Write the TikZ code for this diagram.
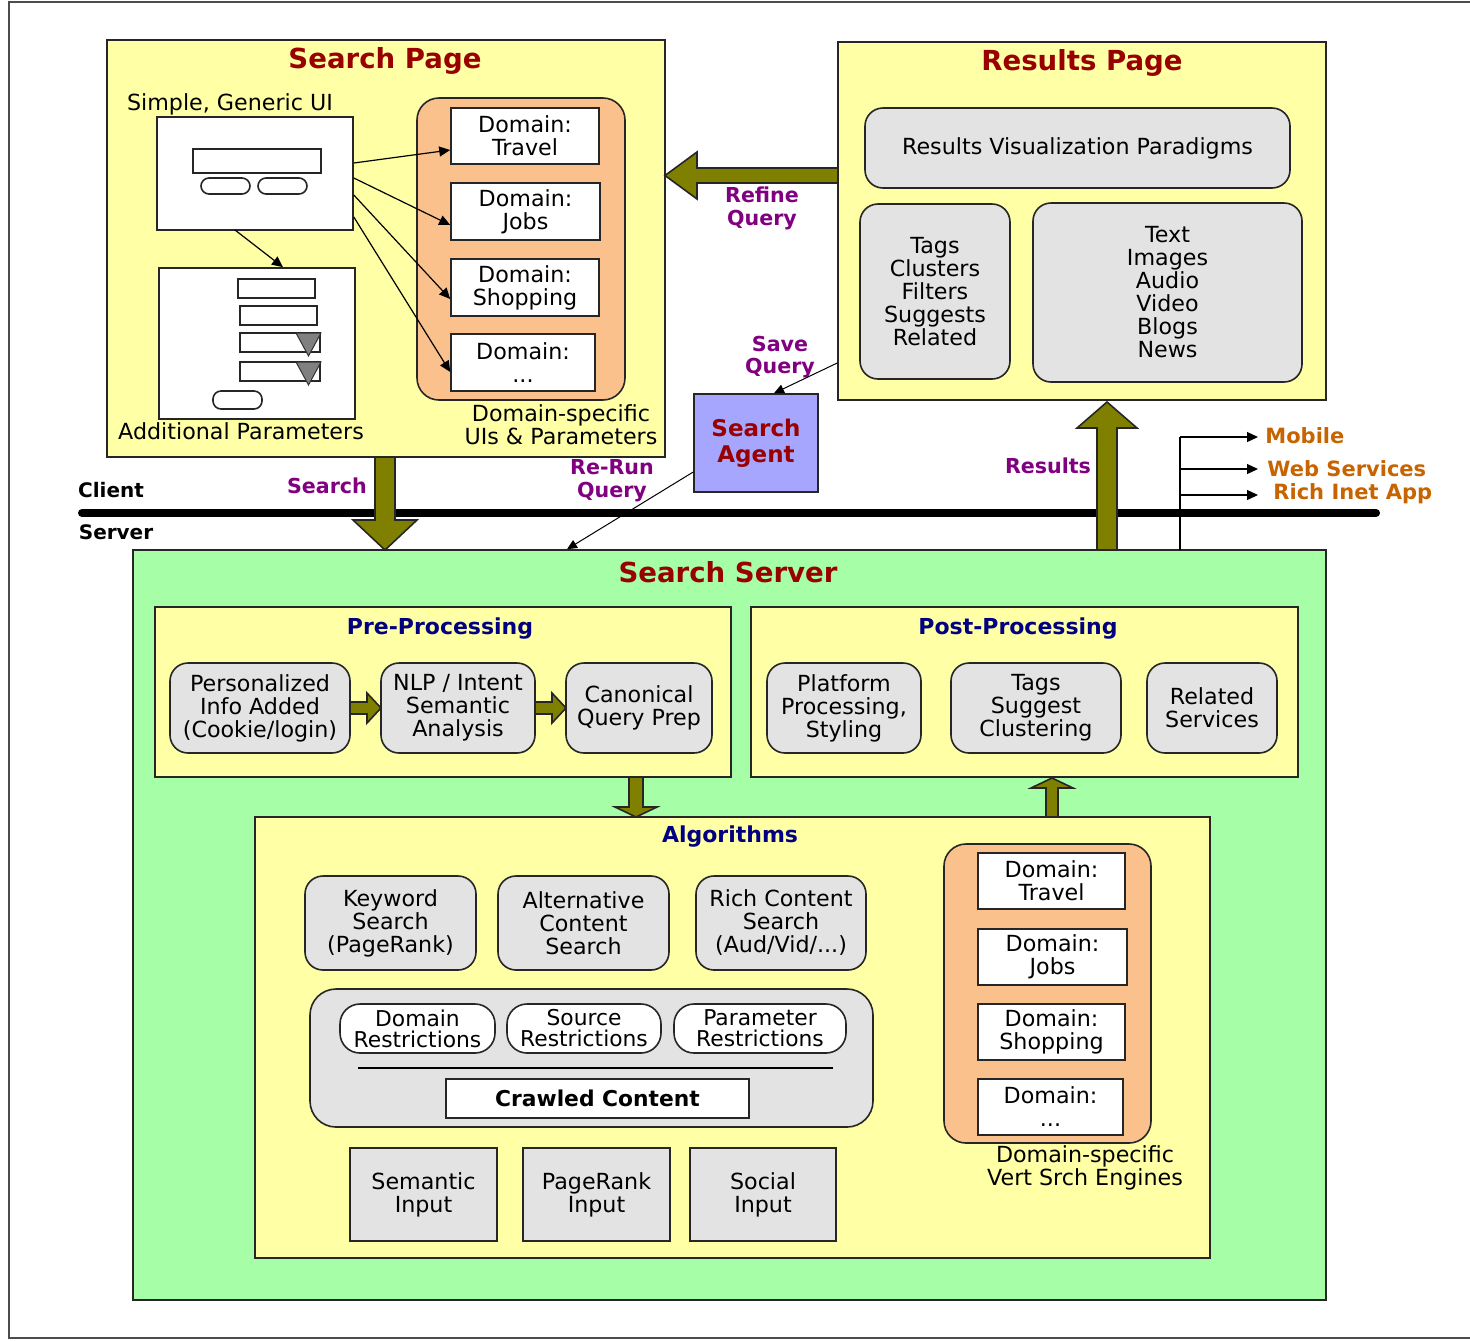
\documentclass[tikz,border=0pt]{standalone}
\usepackage{fontspec}
\setmainfont{DejaVu Sans}
\usetikzlibrary{arrows.meta,calc}
\definecolor{ylw}{HTML}{FFFFA6}
\definecolor{grn}{HTML}{A6FFA6}
\definecolor{gry}{HTML}{E3E3E3}
\definecolor{org}{HTML}{FBC18D}
\definecolor{lav}{HTML}{A6A6FF}
\definecolor{olv}{HTML}{808000}
\definecolor{dred}{HTML}{990000}
\definecolor{purp}{HTML}{800080}
\definecolor{nvy}{HTML}{000080}
\definecolor{orng}{HTML}{C86400}
\newcommand\mytxt{\fontsize{11.1}{11.5}\selectfont}
\newcommand\varrow[6]{\filldraw[blockar] ({#1-#5},#2) -- ({#1-#5},#3) -- ({#1-#6},#3) -- (#1,#4) -- ({#1+#6},#3) -- ({#1+#5},#3) -- ({#1+#5},#2) -- cycle;}
\newcommand\harrow[6]{\filldraw[blockar] (#2,{#1-#5}) -- (#3,{#1-#5}) -- (#3,{#1-#6}) -- (#4,#1) -- (#3,{#1+#6}) -- (#3,{#1+#5}) -- (#2,{#1+#5}) -- cycle;}
\tikzset{
  wh/.style 2 args={minimum width=#1*0.5pt, minimum height=#2*0.5pt},
  bx/.style={draw=black!85, line width=0.8pt, inner sep=0pt, align=center, font=\mytxt},
  ybox/.style={bx, fill=ylw},
  grnbox/.style={bx, fill=grn},
  gbox/.style={bx, fill=gry, rounded corners=9pt},
  sqbox/.style={bx, fill=gry},
  wbox/.style={bx, fill=white},
  obox/.style={bx, fill=org, rounded corners=11pt},
  pill/.style={bx, fill=white, rounded corners=4pt},
  rpill/.style={bx, fill=white, rounded corners=10pt},
  lbl/.style={inner sep=0pt, align=center, font=\mytxt},
  ttl/.style={inner sep=0pt, align=center, font=\fontsize{13.8}{15}\selectfont\bfseries, text=dred},
  subttl/.style={inner sep=0pt, align=center, font=\fontsize{11}{13}\selectfont\bfseries, text=nvy},
  plbl/.style={inner sep=0pt, align=center, font=\fontsize{10.3}{11.4}\selectfont\bfseries, text=purp},
  olbl/.style={inner sep=0pt, anchor=west, font=\fontsize{10.5}{12}\selectfont\bfseries, text=orng},
  klbl/.style={inner sep=0pt, align=center, font=\fontsize{10}{12}\selectfont\bfseries},
  blockar/.style={fill=olv, draw=black!85, line width=0.8pt},
  thinar/.style={draw=black, line width=0.6pt, -{Triangle[length=5.5pt,width=5pt]}},
  frame/.style={draw=black!70, line width=1pt}
}
\begin{document}
\begin{tikzpicture}[x=0.5pt,y=-0.5pt]
\useasboundingbox (0,0) rectangle (1470,1340);
\draw[frame] (1470,2) -- (9,2) -- (9,1338) -- (1470,1338);

% ---------- Search Page ----------
\node[ybox, wh={558}{417}] (sp) at (386,248.5) {};
\node[ttl] (spt) at (385,61) {Search Page};
\node[lbl] (sgl) at (230,104) {Simple, Generic UI};
\node[wbox, wh={196}{113}] (ui) at (255,173.5) {};
\node[wbox, wh={128}{24}] (uif) at (257,161) {};
\node[pill, wh={49}{16}] (uib1) at (225.5,186) {};
\node[pill, wh={49}{16}] (uib2) at (282.5,186) {};
\node[wbox, wh={196}{151}] (ap) at (257,343.5) {};
\node[wbox, wh={77}{19}] (apf1) at (276.5,288.5) {};
\node[wbox, wh={77}{19}] (apf2) at (278.5,315.5) {};
\node[wbox, wh={80}{19}] (apf3) at (280,342.5) {};
\node[wbox, wh={80}{19}] (apf4) at (280,371.5) {};
\filldraw[fill=black!50, draw=black!80, line width=0.5pt] (296,333) -- (321,333) -- (308.5,356) -- cycle;
\filldraw[fill=black!50, draw=black!80, line width=0.5pt] (296,362) -- (321,362) -- (308.5,385) -- cycle;
\node[pill, wh={49}{18}] (apb) at (237.5,400) {};
\node[lbl] (apl) at (241,431) {Additional Parameters};
\node[obox, wh={208}{302}] (dom) at (521,249) {};
\node[wbox, wh={148}{56}] (d1) at (525,136) {Domain:\\Travel};
\node[wbox, wh={149}{57}] (d2) at (525.5,211.5) {Domain:\\Jobs};
\node[wbox, wh={148}{57}] (d3) at (525,287.5) {Domain:\\Shopping};
\node[wbox, wh={144}{57}] (d4) at (523,362.5) {Domain:\\...};
\node[lbl] (doml) at (561,425) {Domain-specific\\UIs \& Parameters};
\draw[thinar] (ui.east |- 0,163) -- (d1.west |- 0,150);
\draw[thinar] (ui.east |- 0,178) -- (d2.west |- 0,225);
\draw[thinar] (ui.east |- 0,195) -- (d3.west |- 0,299);
\draw[thinar] (ui.east |- 0,217) -- (d4.west |- 0,372);
\draw[thinar] (235,230) -- (ap.north -| 283,0);

% ---------- Results Page ----------
\node[ybox, wh={488}{358}] (rp) at (1082,221) {};
\node[ttl] (rpt) at (1082,63) {Results Page};
\node[gbox, wh={425}{80}] (rv) at (1077.5,148) {Results Visualization Paradigms};
\node[gbox, wh={150}{175}] (tags) at (935,291.5) {Tags\\Clusters\\Filters\\Suggests\\Related};
\node[gbox, wh={269}{179}] (media) at (1167.5,292.5) {Text\\Images\\Audio\\Video\\Blogs\\News};
\harrow{175.5}{838}{697}{665}{7.5}{23.5}
\node[plbl] (refl) at (762,208) {Refine\\Query};

% ---------- Search Agent ----------
\node[bx, fill=lav, wh={124}{98}, font=\fontsize{11.5}{13}\selectfont\bfseries, text=dred] (sa) at (756,443) {Search\\Agent};
\node[plbl] (savl) at (780,357) {Save\\Query};
\node[plbl] (rerl) at (612,481) {Re-Run\\Query};

% ---------- Client / Server ----------
\coordinate (cl) at (82,513);
\coordinate (cr) at (1376,513);
\draw[line width=4pt, line cap=round] (cl) -- (cr);
\node[klbl] (clt) at (111,490) {Client};
\node[klbl] (svt) at (116,532) {Server};
\node[plbl] (srl) at (327,486) {Search};
\node[plbl] (resl) at (1048,466) {Results};

% ---------- Search Server ----------
\node[grnbox, wh={1193}{750}] (ss) at (729.5,925) {};
\node[ttl] (sst) at (728,572) {Search Server};

\draw[thinar, line width=0.5pt, -{Triangle[length=5pt,width=4.5pt]}] (rp.west |- 0,363) -- (sa.north -| 774,0);
\draw[thinar, line width=0.5pt, -{Triangle[length=5pt,width=4.5pt]}] (sa.west |- 0,472) -- (ss.north -| 567,0);

\varrow{385}{457}{520}{550}{10}{32}
\varrow{1107}{550}{428}{402}{10}{30}

\coordinate (br0) at (1180,550);
\coordinate (br1) at (1180,437);
\coordinate (m1) at (1258,437);
\coordinate (m2) at (1258,469);
\coordinate (m3) at (1258,495);
\draw[line width=0.6pt] (br0) -- (br1);
\draw[thinar] (br1) -- (m1);
\draw[thinar] (br1 |- m2) -- (m2);
\draw[thinar] (br1 |- m3) -- (m3);
\node[olbl] (mob) at (1265,436) {Mobile};
\node[olbl] (ws) at (1267,469) {Web Services};
\node[olbl] (ria) at (1273,494) {Rich Inet App};

% Pre-processing
\node[ybox, wh={576}{170}] (pre) at (443,692) {};
\node[subttl] (pret) at (440,628) {Pre-Processing};
\node[gbox, wh={180}{90}] (p1) at (260,708) {Personalized\\Info Added\\(Cookie/login)};
\node[gbox, wh={154}{90}] (p2) at (458,708) {NLP / Intent\\Semantic\\Analysis};
\node[gbox, wh={146}{90}] (p3) at (639,708) {Canonical\\Query Prep};
\harrow{708}{350}{367}{381}{6}{15}
\harrow{708}{535}{552}{566}{6}{15}

% Post-processing
\node[ybox, wh={547}{170}] (post) at (1024.5,692) {};
\node[subttl] (postt) at (1018,628) {Post-Processing};
\node[gbox, wh={154}{90}] (q1) at (844,708) {Platform\\Processing,\\Styling};
\node[gbox, wh={170}{90}] (q2) at (1036,708) {Tags\\Suggest\\Clustering};
\node[gbox, wh={130}{90}] (q3) at (1212,708) {Related\\Services};

% Algorithms
\node[ybox, wh={955}{441}] (alg) at (732.5,1037.5) {};
\node[subttl] (algt) at (730,836) {Algorithms};
\varrow{636}{777}{807}{817}{7}{21}
\varrow{1052}{817}{788}{778}{6}{21}
\node[gbox, wh={171}{94}] (k1) at (390.5,923) {Keyword\\Search\\(PageRank)};
\node[gbox, wh={171}{94}] (k2) at (583.5,923) {Alternative\\Content\\Search};
\node[gbox, wh={170}{94}] (k3) at (781,923) {Rich Content\\Search\\(Aud/Vid/...)};
\node[bx, fill=gry, rounded corners=13pt, wh={563}{138}] (rc) at (591.5,1058) {};
\node[rpill, wh={155}{49}, font=\fontsize{10.9}{10.5}\selectfont] (r1) at (417.5,1028.5) {Domain\\Restrictions};
\node[rpill, wh={154}{49}, font=\fontsize{10.9}{10.5}\selectfont] (r2) at (584,1028.5) {Source\\Restrictions};
\node[rpill, wh={172}{49}, font=\fontsize{10.9}{10.5}\selectfont] (r3) at (760,1028.5) {Parameter\\Restrictions};
\draw[line width=0.8pt] (358,1068) -- (833,1068);
\node[wbox, wh={303}{39}, font=\fontsize{10.9}{12}\selectfont\bfseries] (cc) at (597.5,1098.5) {Crawled Content};
\node[sqbox, wh={147}{93}] (i1) at (423.5,1194.5) {Semantic\\Input};
\node[sqbox, wh={147}{93}] (i2) at (596.5,1194.5) {PageRank\\Input};
\node[sqbox, wh={146}{93}] (i3) at (763,1194.5) {Social\\Input};
\node[obox, wh={207}{299}] (ve) at (1047.5,993.5) {};
\node[wbox, wh={147}{56}] (e1) at (1051.5,881) {Domain:\\Travel};
\node[wbox, wh={149}{56}] (e2) at (1052.5,957) {Domain:\\Jobs};
\node[wbox, wh={147}{56}] (e3) at (1051.5,1032) {Domain:\\Shopping};
\node[wbox, wh={145}{56}] (e4) at (1050.5,1107) {Domain:\\...};
\node[lbl] (vel) at (1085,1168) {Domain-specific\\Vert Srch Engines};
\end{tikzpicture}
\end{document}
